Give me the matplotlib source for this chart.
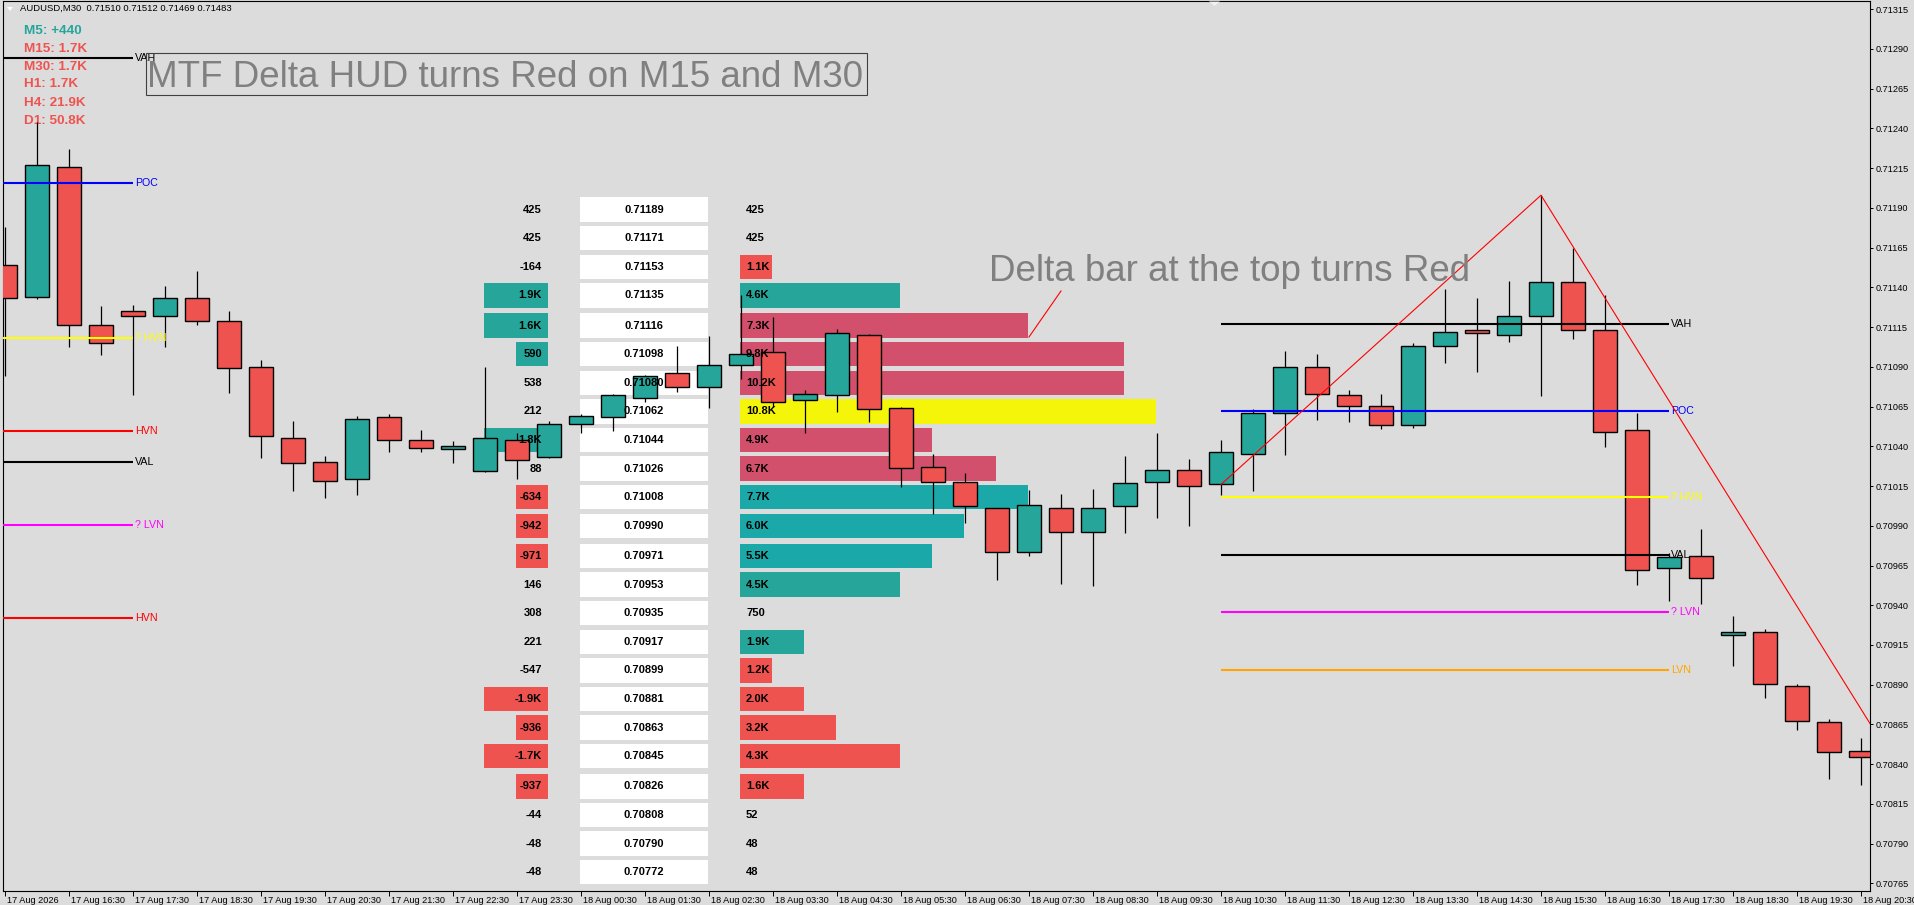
import numpy as np
import pandas as pd
import matplotlib
matplotlib.use("Agg")
import matplotlib.pyplot as plt
from matplotlib.patches import Rectangle, Polygon
from matplotlib.lines import Line2D
from matplotlib.transforms import blended_transform_factory, ScaledTranslation

# ---------------- data ----------------
times = pd.date_range("2026-08-17 15:30", periods=59, freq="30min")

opens = [0.711539, 0.711338, 0.712156, 0.711162, 0.711250, 0.711218, 0.711332, 0.711187,
         0.710897, 0.710450, 0.710300, 0.710193, 0.710583, 0.710438, 0.710385, 0.710247,
         0.710438, 0.710331, 0.710539, 0.710583, 0.710702, 0.710860, 0.710771, 0.710910,
         0.710992, 0.710690, 0.710721, 0.711099, 0.710639, 0.710268, 0.710177, 0.710010,
         0.709735, 0.710010, 0.709859, 0.710023, 0.710177, 0.710249, 0.710161, 0.710350,
         0.710608, 0.710897, 0.710721, 0.710652, 0.710532, 0.711029, 0.711130, 0.711099,
         0.711218, 0.711432, 0.711130, 0.710501, 0.709633, 0.709708, 0.709211, 0.709230,
         0.708890, 0.708663, 0.708481]
highs = [0.711778, 0.712441, 0.712271, 0.711283, 0.711289, 0.711409, 0.711503, 0.711252,
         0.710943, 0.710559, 0.710339, 0.710591, 0.710603, 0.710503, 0.710434, 0.710899,
         0.710484, 0.710558, 0.710603, 0.710729, 0.710849, 0.711031, 0.711094, 0.711352,
         0.711214, 0.710754, 0.711138, 0.711105, 0.710645, 0.710350, 0.710230, 0.710015,
         0.710125, 0.710100, 0.710132, 0.710339, 0.710484, 0.710320, 0.710440, 0.710633,
         0.711000, 0.710981, 0.710754, 0.710729, 0.711048, 0.711388, 0.711333, 0.711440,
         0.711980, 0.711650, 0.711350, 0.710608, 0.709731, 0.709880, 0.709332, 0.709249,
         0.708906, 0.708686, 0.708567]
lows = [0.710844, 0.711329, 0.711027, 0.710975, 0.710723, 0.711027, 0.711165, 0.710736,
        0.710328, 0.710121, 0.710077, 0.710096, 0.710366, 0.710366, 0.710297, 0.710240,
        0.710196, 0.710325, 0.710486, 0.710498, 0.710677, 0.710740, 0.710639, 0.710826,
        0.710646, 0.710486, 0.710618, 0.710555, 0.710142, 0.709972, 0.709919, 0.709559,
        0.709712, 0.709534, 0.709521, 0.709857, 0.709951, 0.709900, 0.710094, 0.710121,
        0.710345, 0.710566, 0.710555, 0.710507, 0.710517, 0.710926, 0.710870, 0.711058,
        0.710719, 0.711077, 0.710398, 0.709527, 0.709429, 0.709408, 0.709018, 0.708816,
        0.708615, 0.708307, 0.708271]
closes = [0.711331, 0.712168, 0.711162, 0.711048, 0.711218, 0.711332, 0.711187, 0.710891,
          0.710463, 0.710293, 0.710180, 0.710570, 0.710438, 0.710388, 0.710402, 0.710452,
          0.710312, 0.710539, 0.710589, 0.710721, 0.710841, 0.710771, 0.710910, 0.710979,
          0.710677, 0.710727, 0.711111, 0.710637, 0.710262, 0.710177, 0.710023, 0.709735,
          0.710031, 0.709859, 0.710010, 0.710167, 0.710249, 0.710150, 0.710362, 0.710608,
          0.710897, 0.710727, 0.710652, 0.710532, 0.711029, 0.711118, 0.711111, 0.711218,
          0.711432, 0.711130, 0.710488, 0.709620, 0.709702, 0.709570, 0.709232, 0.708903,
          0.708670, 0.708475, 0.708443]

ladder_prices = [0.71189, 0.71171, 0.71153, 0.71135, 0.71116, 0.71098, 0.71080, 0.71062,
                 0.71044, 0.71026, 0.71008, 0.70990, 0.70971, 0.70953, 0.70935, 0.70917,
                 0.70899, 0.70881, 0.70863, 0.70845, 0.70826, 0.70808, 0.70790, 0.70772]
ladder_delta = [425, 425, -164, 1900, 1600, 590, 538, 212, 1800, 88, -634, -942, -971,
                146, 308, 221, -547, -1900, -936, -1700, -937, -44, -48, -48]
ladder_volume = [425, 425, 1100, 4600, 7300, 9800, 10200, 10800, 4900, 6700, 7700, 6000,
                 5500, 4500, 750, 1900, 1200, 2000, 3180, 4300, 1600, 52, 48, 48]
ladder_side = [0, 0, -1, 1, -1, -1, -1, -1, -1, -1, 1, 1, 1, 1, 0, 1, -1, -1, -1, -1, -1, 0, 0, 0]
poc_row = 7
va_first, va_last = 4, 12

left_level_names = ["VAH", "POC", "? HVN", "HVN", "VAL", "? LVN", "HVN"]
left_level_prices = [0.712845, 0.712059, 0.711082, 0.710496, 0.710303, 0.709905, 0.709320]
right_level_names = ["VAH", "POC", "? HVN", "VAL", "? LVN", "LVN"]
right_level_prices = [0.711167, 0.710624, 0.710084, 0.709717, 0.709358, 0.708994]
level_colors = {"VAH": "black", "POC": "#0000FF", "? HVN": "#FFFF00", "HVN": "#FF0000",
                "VAL": "black", "? LVN": "#FF00FF", "LVN": "#FFA500"}

zigzag_idx = [38, 48, 60]
zigzag_price = [0.71016, 0.71198, 0.70810]

hud_labels = ["M5: +440", "M15: 1.7K", "M30: 1.7K", "H1: 1.7K", "H4: 21.9K", "D1: 50.8K"]
hud_positive = [True, False, False, False, False, False]

y_ticks = np.round(np.arange(0.70765, 0.713151, 0.00025), 5)

# ---------------- style ----------------
W, H = 1915, 905
BG = "#DCDCDC"
TEAL = "#26A69A"
RED = "#EF5350"
VA_BUY = "#1BA8A8"
VA_SELL = "#D2506B"
POC_Y = "#F5F50A"
FONT = "Liberation Sans"

fig = plt.figure(figsize=(W / 100, H / 100), dpi=100, facecolor=BG)
ax = fig.add_axes([3 / W, (H - 891) / H, (1870 - 3) / W, (891 - 1) / H])
ax.set_facecolor(BG)
ax.set_xlim(-0.0625, 58.281)
ax.set_ylim(0.707602, 0.713202)
for s in ax.spines.values():
    s.set_color("black")
    s.set_linewidth(0.8)

# axes ticks
ax.yaxis.tick_right()
ax.set_yticks(y_ticks)
ax.set_yticklabels([f"{v:.5f}" for v in y_ticks], fontsize=6.6, family=FONT)
ax.tick_params(axis="y", direction="out", length=2.3, width=0.7, pad=1.4, colors="black")
xt = np.arange(0, 59, 2)
ax.set_xticks(xt)
ax.set_xticklabels([])
ax.tick_params(axis="x", direction="out", length=3.6, width=0.7, colors="black")
xlab = []
for j in xt:
    t = times[j]
    xlab.append("17 Aug 2026" if j == 0 else f"{t.day} {t.strftime('%b')} {t.strftime('%H:%M')}")
btr = blended_transform_factory(ax.transData, ax.transAxes)
off = ScaledTranslation(2 / 100, 0, fig.dpi_scale_trans)
for j, lab in zip(xt, xlab):
    ax.text(j, -9.6 / 890, lab, transform=btr + off, ha="left", va="center",
            fontsize=6.6, family=FONT, clip_on=False)

# ---------------- ladder ----------------
def px(x):
    return (x - 5) / 32.0

row_h = 24.4 / 158920
for r, p in enumerate(ladder_prices):
    d = ladder_delta[r]
    units = min(int(abs(d) // 580), 2)
    if units > 0:
        ax.add_patch(Rectangle((px(548) - units, p - row_h / 2), units, row_h,
                               facecolor=TEAL if d > 0 else RED, edgecolor="none", zorder=1))
    dl = f"{d / 1000:.1f}K" if abs(d) >= 1000 else f"{d}"
    ax.text(px(542), p, dl, ha="right", va="center", fontsize=8, fontweight="bold",
            family=FONT, zorder=6.5)
    ax.add_patch(Rectangle((px(580), p - row_h / 2), 4, row_h, facecolor="white",
                           edgecolor="none", zorder=1))
    ax.text(px(644), p, f"{p:.5f}", ha="center", va="center", fontsize=8,
            fontweight="bold", family=FONT, zorder=6.5)
    v = ladder_volume[r]
    bu = int(v // 800)
    if bu > 0:
        if r == poc_row:
            col = POC_Y
        elif va_first <= r <= va_last:
            col = VA_BUY if ladder_side[r] > 0 else VA_SELL
        else:
            col = TEAL if ladder_side[r] > 0 else RED
        ax.add_patch(Rectangle((px(740), p - row_h / 2), bu, row_h, facecolor=col,
                               edgecolor="none", zorder=1))
    vl = f"{v / 1000:.1f}K" if v >= 1000 else f"{v}"
    ax.text(px(746), p, vl, ha="left", va="center", fontsize=8, fontweight="bold",
            family=FONT, zorder=6.5)

# ---------------- candles ----------------
o = np.array(opens); h = np.array(highs); l = np.array(lows); c = np.array(closes)
idx = np.arange(len(o))
up = c >= o
ax.vlines(idx, l, h, color="black", lw=0.9, zorder=5)
ax.bar(idx, np.maximum(np.abs(c - o), 0.000012), bottom=np.minimum(o, c), width=0.72,
       color=np.where(up, TEAL, RED), edgecolor="black", linewidth=1.0, zorder=6)

# ---------------- profile levels ----------------
for name, p in zip(left_level_names, left_level_prices):
    ax.hlines(p, -1, 4, color=level_colors[name], lw=1.5, zorder=7)
    ax.text(4 + 2 / 32, p, name, color=level_colors[name], fontsize=7.7, family=FONT,
            ha="left", va="center", zorder=7)
for name, p in zip(right_level_names, right_level_prices):
    ax.hlines(p, 38, 52, color=level_colors[name], lw=1.5, zorder=7)
    ax.text(52 + 2 / 32, p, name, color=level_colors[name], fontsize=7.7, family=FONT,
            ha="left", va="center", zorder=7)

ax.plot(zigzag_idx, zigzag_price, color="red", lw=0.8, zorder=8)

# ---------------- HUD & annotations ----------------
ft = fig.transFigure
hud_base = [34, 51.7, 70, 87.3, 105.7, 124]
for lab, pos, yb in zip(hud_labels, hud_positive, hud_base):
    ax.text(24.3 / W, 1 - yb / H, lab, transform=ft, color=TEAL if pos else RED,
            fontsize=9.7, fontweight="bold", family=FONT, va="baseline", zorder=1,
            clip_on=False)

ax.text(20 / W, 1 - 8.5 / H, "AUDUSD,M30  0.71510 0.71512 0.71469 0.71483",
        transform=ft, fontsize=6.8, family=FONT, va="center", ha="left", zorder=9,
        clip_on=False)
ax.add_artist(Polygon([[7 / W, 1 - 7 / H], [13 / W, 1 - 7 / H], [10 / W, 1 - 11 / H]],
                      closed=True, facecolor="white", edgecolor="none", transform=ft,
                      zorder=9, clip_on=False))
ax.add_artist(Polygon([[1209 / W, 1 - 1.5 / H], [1220 / W, 1 - 1.5 / H], [1214.5 / W, 1 - 6 / H]],
                      closed=True, facecolor="#F2F2F2", edgecolor="none", transform=ft,
                      zorder=9, clip_on=False))

ax.add_artist(Rectangle((145.7 / W, 1 - 95.3 / H), (867 - 145.7) / W, (95.3 - 53.3) / H,
                        transform=ft, fill=False, edgecolor="#404040", lw=0.8, zorder=9,
                        clip_on=False))
ax.text(147 / W, 1 - 87.3 / H, "MTF Delta HUD turns Red on M15 and M30", transform=ft,
        fontsize=26.5, color="#808080", family=FONT, va="baseline", ha="left", zorder=9,
        clip_on=False)
ax.text(989 / W, 1 - 281 / H, "Delta bar at the top turns Red", transform=ft,
        fontsize=26.5, color="#808080", family=FONT, va="baseline", ha="left", zorder=9,
        clip_on=False)
ax.add_artist(Line2D([1029 / W, 1061 / W], [1 - 337 / H, 1 - 291 / H], color="red",
                     lw=0.8, transform=ft, zorder=9))

fig.savefig("out.png", dpi=100, facecolor=BG)
